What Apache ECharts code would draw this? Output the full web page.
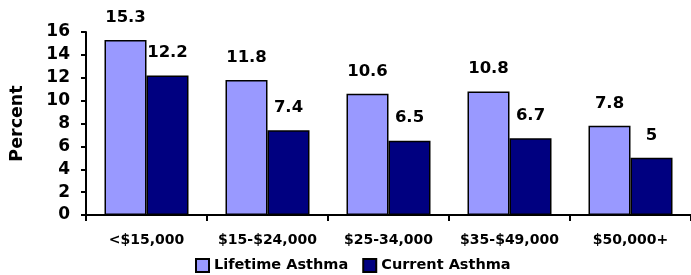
<!DOCTYPE html>
<html>
<head>
<meta charset="utf-8">
<style>
  html, body { margin: 0; padding: 0; background: #fff; }
  #main { width: 691px; height: 275px; }
</style>
</head>
<body>
<div id="main"></div>
<script src="https://cdn.jsdelivr.net/npm/echarts@6/dist/echarts.min.js"></script>
<script>
// income groups and asthma prevalence (percent)
var categories = ['<$15,000', '$15-$24,000', '$25-34,000', '$35-$49,000', '$50,000+'];
var lifetimeAsthma = [15.3, 11.8, 10.6, 10.8, 7.8];
var currentAsthma = [12.2, 7.4, 6.5, 6.7, 5];
var yTicks = [0, 2, 4, 6, 8, 10, 12, 14, 16];

var chart = echarts.init(document.getElementById('main'));
var font = 'DejaVu Sans, Arial, sans-serif';

var labelStyle = {
  show: true,
  position: 'top',
  distance: 14,
  color: '#000',
  fontFamily: font,
  fontWeight: 'bold',
  fontSize: 16.5
};

chart.setOption({
  animation: false,
  grid: { left: 83, top: 32, width: 610, height: 183 },
  legend: {
    left: 190,
    top: 253,
    itemWidth: 13,
    itemHeight: 13,
    itemGap: 14,
    icon: 'rect',
    textStyle: { color: '#000', fontFamily: font, fontWeight: 'bold', fontSize: 14.5 },
    data: ['Lifetime Asthma', 'Current Asthma']
  },
  xAxis: {
    type: 'category',
    data: categories,
    axisLine: { lineStyle: { color: '#000', width: 2 } },
    axisTick: { show: true, length: 6, lineStyle: { color: '#000', width: 2 } },
    axisLabel: { interval: 0, color: '#000', fontFamily: font, fontWeight: 'bold', fontSize: 14, margin: 18 }
  },
  yAxis: {
    type: 'value',
    min: yTicks[0],
    max: yTicks[yTicks.length - 1],
    interval: 2,
    name: 'Percent',
    nameLocation: 'middle',
    nameGap: 60,
    nameTextStyle: { color: '#000', fontFamily: font, fontWeight: 'bold', fontSize: 17.5 },
    splitLine: { show: false },
    axisLine: { show: true, lineStyle: { color: '#000', width: 2 } },
    axisTick: { show: true, length: 5, lineStyle: { color: '#000', width: 2 } },
    axisLabel: { color: '#000', fontFamily: font, fontWeight: 'bold', fontSize: 17, margin: 16 }
  },
  series: [
    {
      name: 'Lifetime Asthma',
      type: 'bar',
      data: lifetimeAsthma,
      barWidth: 42,
      barGap: '0%',
      itemStyle: { color: '#9999FF', borderColor: '#000', borderWidth: 1.5 },
      label: labelStyle
    },
    {
      name: 'Current Asthma',
      type: 'bar',
      data: currentAsthma,
      barWidth: 42,
      itemStyle: { color: '#000080', borderColor: '#000', borderWidth: 1.5 },
      label: labelStyle
    }
  ]
});
</script>
</body>
</html>
